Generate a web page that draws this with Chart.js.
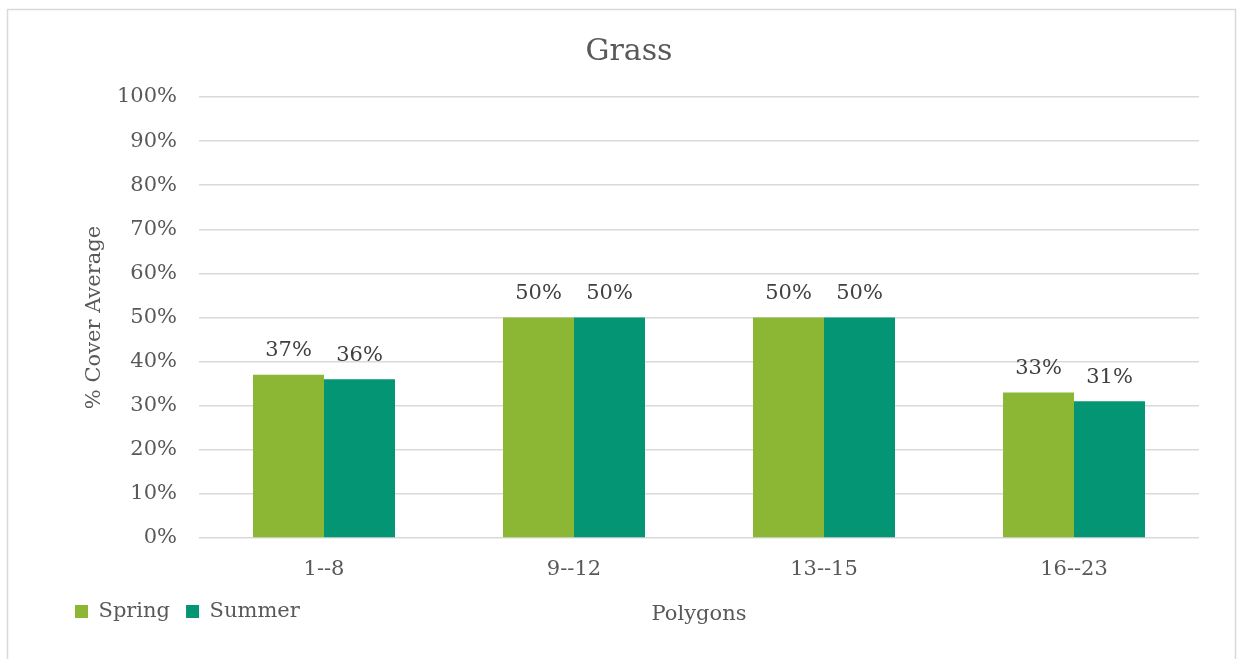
<!DOCTYPE html>
<html>
<head>
<meta charset="utf-8">
<script src="https://cdn.jsdelivr.net/npm/chart.js@4"></script>
<style>
  html, body { margin: 0; padding: 0; background: #ffffff; }
  #wrap { position: relative; width: 1244px; height: 659px; }
</style>
</head>
<body>
<div id="wrap"><canvas id="chart" width="1244" height="659"></canvas></div>
<script>
// Average grass cover per polygon group, by season (percent)
const categories = ['1--8', '9--12', '13--15', '16--23'];
const springValues = [37, 50, 50, 33];
const summerValues = [36, 50, 50, 31];
const yTicks = [0, 10, 20, 30, 40, 50, 60, 70, 80, 90, 100];

const FONT = "'DejaVu Serif', 'Liberation Serif', serif";
const TEXT = '#595959';
const GRID = '#d9d9d9';

// Thin frame around the whole chart
const framePlugin = {
  id: 'frame',
  beforeDraw(chart) {
    const ctx = chart.ctx;
    ctx.save();
    ctx.strokeStyle = GRID;
    ctx.lineWidth = 1.5;
    ctx.strokeRect(7.5, 9.5, chart.width - 16, chart.height + 10);
    ctx.restore();
  }
};

// Value labels above each bar
const valueLabels = {
  id: 'valueLabels',
  afterDatasetsDraw(chart) {
    const ctx = chart.ctx;
    ctx.save();
    ctx.font = '21px ' + FONT;
    ctx.fillStyle = '#404040';
    ctx.textAlign = 'center';
    ctx.textBaseline = 'middle';
    chart.data.datasets.forEach((ds, i) => {
      chart.getDatasetMeta(i).data.forEach((bar, j) => {
        ctx.fillText(ds.data[j] + '%', bar.x, bar.y - 24);
      });
    });
    ctx.restore();
  }
};

new Chart(document.getElementById('chart'), {
  type: 'bar',
  data: {
    labels: categories,
    datasets: [
      { label: 'Spring', data: springValues, backgroundColor: '#8bb734', borderWidth: 0 },
      { label: 'Summer', data: summerValues, backgroundColor: '#039574', borderWidth: 0 }
    ]
  },
  options: {
    responsive: false,
    animation: false,
    devicePixelRatio: 1,
    categoryPercentage: 0.568,
    barPercentage: 1.0,
    layout: { padding: { left: 59, right: 45, top: 0, bottom: 27 } },
    plugins: {
      title: {
        display: true,
        text: 'Grass',
        color: TEXT,
        font: { family: FONT, size: 30, weight: 'normal' },
        padding: { top: 34, bottom: 27 }
      },
      legend: {
        display: true,
        position: 'bottom',
        align: 'start',
        labels: {
          color: TEXT,
          font: { family: FONT, size: 21 },
          boxWidth: 13,
          boxHeight: 13,
          padding: 16
        }
      },
      tooltip: { enabled: false }
    },
    scales: {
      x: {
        grid: { display: false, drawTicks: false },
        border: { display: false },
        ticks: { color: TEXT, font: { family: FONT, size: 21 }, padding: 19 },
        title: {
          display: true,
          text: 'Polygons',
          color: TEXT,
          font: { family: FONT, size: 21 },
          padding: { top: 0, bottom: -42 }
        },
        afterFit(scale) { scale.height = 47; }
      },
      y: {
        min: 0,
        max: 100,
        afterBuildTicks(scale) { scale.ticks = yTicks.map(v => ({ value: v })); },
        grid: { color: GRID, lineWidth: 1.5, drawTicks: false },
        border: { display: false },
        ticks: {
          color: TEXT,
          font: { family: FONT, size: 21 },
          padding: 22,
          callback: v => v + '%'
        },
        title: {
          display: true,
          text: '% Cover Average',
          color: TEXT,
          font: { family: FONT, size: 21 },
          padding: { top: 23, bottom: 0 }
        },
        afterFit(scale) { scale.width = 140; }
      }
    }
  },
  plugins: [framePlugin, valueLabels]
});
</script>
</body>
</html>
